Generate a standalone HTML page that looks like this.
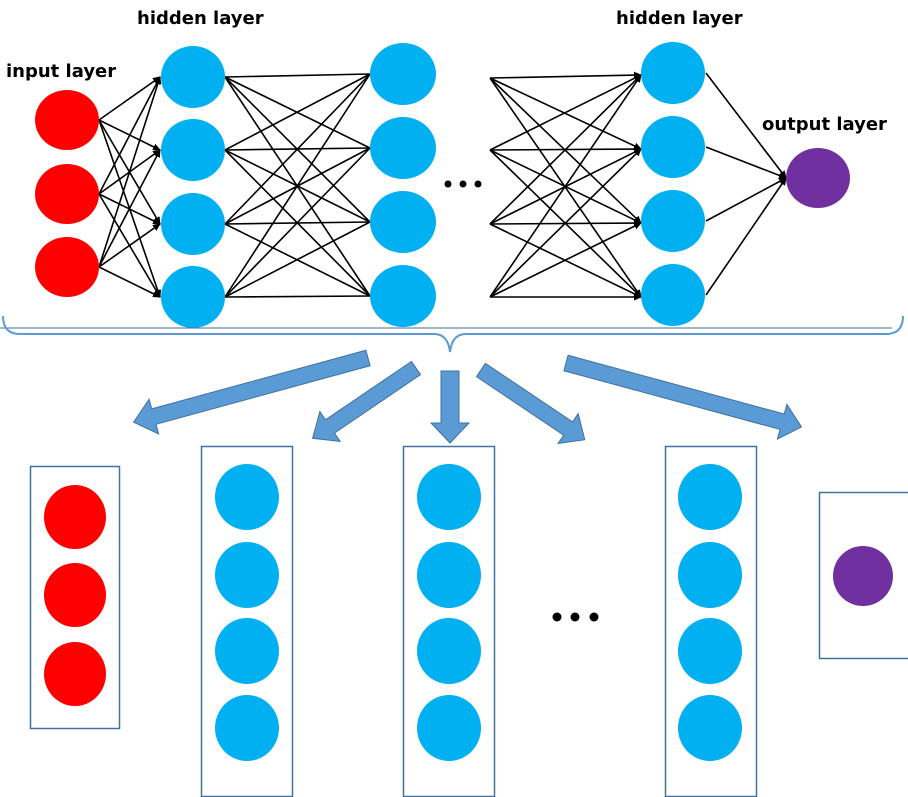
<!DOCTYPE html>
<html><head><meta charset="utf-8"><style>html,body{margin:0;padding:0;background:#fff}svg{display:block}</style></head>
<body>
<svg width="908" height="797" viewBox="0 0 908 797" xmlns="http://www.w3.org/2000/svg">
<defs>
<marker id="ah" markerWidth="8" markerHeight="8" refX="7" refY="4" orient="auto" markerUnits="userSpaceOnUse">
<path d="M0,0.5 L8,4 L0,7.5 z" fill="#000"/></marker>
</defs>
<g font-family="'DejaVu Sans','Liberation Sans',sans-serif" font-weight="bold" font-size="18" fill="#000">
<text x="137" y="24">hidden layer</text>
<text x="616" y="24">hidden layer</text>
<text x="6" y="77">input layer</text>
<text x="762" y="130">output layer</text>
</g>
<g stroke="#000" stroke-width="1.6" marker-end="url(#ah)">
<line x1="99" y1="120" x2="160" y2="77"/><line x1="99" y1="120" x2="160" y2="150"/><line x1="99" y1="120" x2="160" y2="224"/><line x1="99" y1="120" x2="160" y2="297"/>
<line x1="99" y1="194" x2="160" y2="77"/><line x1="99" y1="194" x2="160" y2="150"/><line x1="99" y1="194" x2="160" y2="224"/><line x1="99" y1="194" x2="160" y2="297"/>
<line x1="99" y1="267" x2="160" y2="77"/><line x1="99" y1="267" x2="160" y2="150"/><line x1="99" y1="267" x2="160" y2="224"/><line x1="99" y1="267" x2="160" y2="297"/>
<line x1="490" y1="78" x2="641" y2="75"/><line x1="490" y1="78" x2="641" y2="149"/><line x1="490" y1="78" x2="641" y2="223"/><line x1="490" y1="78" x2="641" y2="297"/>
<line x1="490" y1="150" x2="641" y2="75"/><line x1="490" y1="150" x2="641" y2="149"/><line x1="490" y1="150" x2="641" y2="223"/><line x1="490" y1="150" x2="641" y2="297"/>
<line x1="490" y1="224" x2="641" y2="75"/><line x1="490" y1="224" x2="641" y2="149"/><line x1="490" y1="224" x2="641" y2="223"/><line x1="490" y1="224" x2="641" y2="297"/>
<line x1="490" y1="297" x2="641" y2="75"/><line x1="490" y1="297" x2="641" y2="149"/><line x1="490" y1="297" x2="641" y2="223"/><line x1="490" y1="297" x2="641" y2="297"/>
<line x1="706" y1="73" x2="786" y2="178"/><line x1="706" y1="147" x2="786" y2="178"/><line x1="706" y1="221" x2="786" y2="178"/><line x1="706" y1="295" x2="786" y2="178"/>
</g>
<g stroke="#000" stroke-width="1.6">
<line x1="225" y1="77" x2="370" y2="74"/><line x1="225" y1="77" x2="370" y2="148"/><line x1="225" y1="77" x2="370" y2="222"/><line x1="225" y1="77" x2="370" y2="296"/>
<line x1="225" y1="150" x2="370" y2="74"/><line x1="225" y1="150" x2="370" y2="148"/><line x1="225" y1="150" x2="370" y2="222"/><line x1="225" y1="150" x2="370" y2="296"/>
<line x1="225" y1="224" x2="370" y2="74"/><line x1="225" y1="224" x2="370" y2="148"/><line x1="225" y1="224" x2="370" y2="222"/><line x1="225" y1="224" x2="370" y2="296"/>
<line x1="225" y1="297" x2="370" y2="74"/><line x1="225" y1="297" x2="370" y2="148"/><line x1="225" y1="297" x2="370" y2="222"/><line x1="225" y1="297" x2="370" y2="296"/>
</g>
<g fill="#ff0000"><ellipse cx="67" cy="120" rx="32" ry="30"/><ellipse cx="67" cy="194" rx="32" ry="30"/><ellipse cx="67" cy="267" rx="32" ry="30"/></g>
<g fill="#00b0f0">
<ellipse cx="193" cy="77" rx="32" ry="31"/><ellipse cx="193" cy="150" rx="32" ry="31"/><ellipse cx="193" cy="224" rx="32" ry="31"/><ellipse cx="193" cy="297" rx="32" ry="31"/>
<ellipse cx="403" cy="74" rx="33" ry="31"/><ellipse cx="403" cy="148" rx="33" ry="31"/><ellipse cx="403" cy="222" rx="33" ry="31"/><ellipse cx="403" cy="296" rx="33" ry="31"/>
<ellipse cx="673" cy="73" rx="32" ry="31"/><ellipse cx="673" cy="147" rx="32" ry="31"/><ellipse cx="673" cy="221" rx="32" ry="31"/><ellipse cx="673" cy="295" rx="32" ry="31"/>
</g>
<ellipse cx="818" cy="178" rx="32" ry="30" fill="#7030a0"/>
<g fill="#000"><circle cx="448" cy="184" r="3.5"/><circle cx="463" cy="184" r="3.5"/><circle cx="478" cy="184" r="3.5"/></g>
<line x1="0" y1="328" x2="892" y2="328" stroke="#41719c" stroke-width="1"/>
<path d="M3,316 Q3,334 20,334 L434,334 Q448,334 450,352 Q452,334 466,334 L886,334 Q903,334 903,316" fill="none" stroke="#5b9bd5" stroke-width="2"/>
<g fill="#5b9bd5" stroke="#41719c" stroke-width="1">
<g transform="translate(368,358) rotate(164.7)"><polygon points="0,-8 222,-8 222,-18 243,0 222,18 222,8 0,8"/></g>
<g transform="translate(416,368) rotate(145.8)"><polygon points="0,-8 104,-8 104,-18 125,0 104,18 104,8 0,8"/></g>
<g transform="translate(450,371) rotate(90)"><polygon points="0,-9 52,-9 52,-19 72,0 52,19 52,9 0,9"/></g>
<g transform="translate(481,370) rotate(33.9)"><polygon points="0,-8 105,-8 105,-18 125,0 105,18 105,8 0,8"/></g>
<g transform="translate(566,363) rotate(15.2)"><polygon points="0,-8 224,-8 224,-18 244,0 224,18 224,8 0,8"/></g>
</g>
<g fill="none" stroke="#41719c" stroke-width="1.5">
<rect x="30.5" y="466.5" width="89" height="262"/>
<rect x="201.5" y="446.5" width="91" height="350"/>
<rect x="403.5" y="446.5" width="91" height="350"/>
<rect x="665.5" y="446.5" width="91" height="350"/>
<rect x="819.5" y="492.5" width="92" height="166"/>
</g>
<g fill="#ff0000"><ellipse cx="75" cy="517" rx="31" ry="32"/><ellipse cx="75" cy="595" rx="31" ry="32"/><ellipse cx="75" cy="674" rx="31" ry="32"/></g>
<g fill="#00b0f0">
<ellipse cx="247" cy="497" rx="32" ry="33"/><ellipse cx="247" cy="575" rx="32" ry="33"/><ellipse cx="247" cy="651" rx="32" ry="33"/><ellipse cx="247" cy="728" rx="32" ry="33"/>
<ellipse cx="449" cy="497" rx="32" ry="33"/><ellipse cx="449" cy="575" rx="32" ry="33"/><ellipse cx="449" cy="651" rx="32" ry="33"/><ellipse cx="449" cy="728" rx="32" ry="33"/>
<ellipse cx="710" cy="497" rx="32" ry="33"/><ellipse cx="710" cy="575" rx="32" ry="33"/><ellipse cx="710" cy="651" rx="32" ry="33"/><ellipse cx="710" cy="728" rx="32" ry="33"/>
</g>
<ellipse cx="863" cy="576" rx="30" ry="30" fill="#7030a0"/>
<g fill="#000"><circle cx="557" cy="617" r="4.5"/><circle cx="575" cy="617" r="4.5"/><circle cx="594" cy="617" r="4.5"/></g>
</svg>
</body></html>
